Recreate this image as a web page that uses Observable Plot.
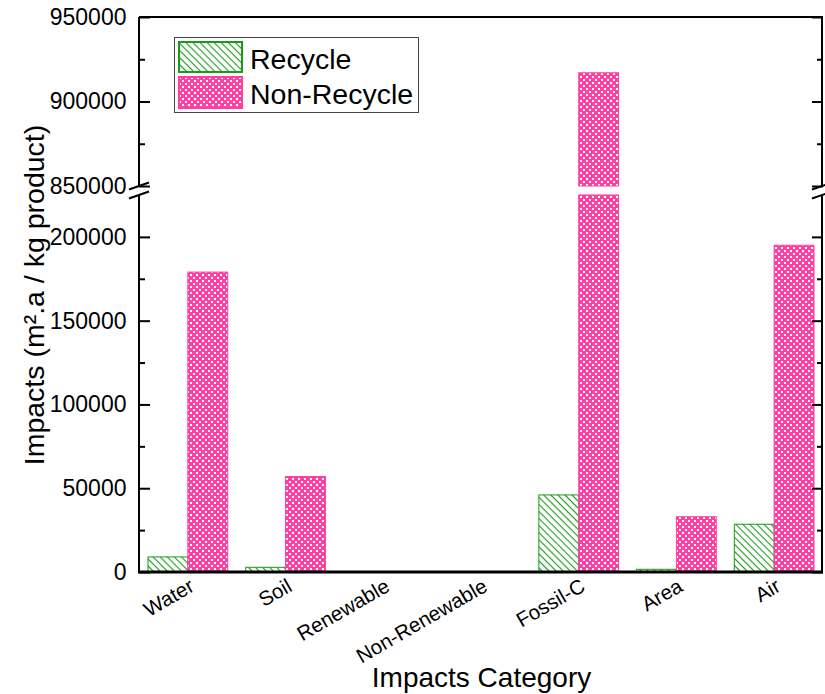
<!DOCTYPE html>
<html><head><meta charset="utf-8">
<script src="https://cdn.jsdelivr.net/npm/d3@7"></script>
<script src="https://cdn.jsdelivr.net/npm/@observablehq/plot@0.6"></script>
<style>
body{margin:0;background:#fff;font-family:"Liberation Sans",Arial,sans-serif;}
#wrap{position:relative;width:825px;height:694px;}
#legend{position:absolute;left:174px;top:37px;width:243px;height:74px;border:1px solid #444;background:#fff;box-sizing:content-box;}
.lrow{position:absolute;left:3px;display:flex;align-items:center;}
.lrow span{margin-left:7px;font-size:28.5px;color:#000;line-height:1;position:relative;top:2px;}
</style></head><body>
<svg width="0" height="0" style="position:absolute">
<defs>
<pattern id="hatch" patternUnits="userSpaceOnUse" width="5" height="5" patternTransform="rotate(45)">
<rect width="5" height="5" fill="#fff"/>
<rect x="0" y="0" width="5" height="1.1" fill="#1a9a1a"/>
</pattern>
<pattern id="mesh" patternUnits="userSpaceOnUse" width="6" height="6">
<rect width="6" height="6" fill="#ff3fa4"/>
<rect x="1" y="1" width="2" height="2" fill="#fff"/>
<rect x="4" y="4" width="2" height="2" fill="#fff"/>
</pattern>
</defs></svg>
<div id="wrap"><div id="legend"></div></div>
<script>
// ---- data ----
const categories = ["Water", "Soil", "Renewable", "Non-Renewable", "Fossil-C", "Area", "Air"];
const recycle    = [9000, 2800, 0, 0, 46000, 1600, 28500];
const nonRecycle = [179000, 57000, 0, 0, 917000, 33000, 195000];
const seriesNames = ["Recycle", "Non-Recycle"];
const majorTicks = [0, 50000, 100000, 150000, 200000, 850000, 900000, 950000];
const minorTicks = [25000, 75000, 125000, 175000, 875000, 925000];
const breakLow = 225000, breakHigh = 850000, yMax = 950000;
const xTitle = "Impacts Category";
const yTitle = "Impacts (m².a / kg product)";

// ---- layout ----
const W = 825, H = 694, mL = 139, mR = 2, mT = 17, mB = 122;
const gapTop = 186, gapBottom = 195;
const plotW = W - mL - mR;
const bw = plotW / categories.length;
const barW = 39.86, outerPad = 9;
const green = "#1a9a1a", pink = "#ff3fa4";

function segments(values) {
  const rows = [];
  categories.forEach((c, i) => {
    const v = values[i];
    rows.push({cat: c, y1: 0, y2: Math.min(v, breakLow)});
    if (v > breakHigh) rows.push({cat: c, y1: breakHigh, y2: v});
  });
  return rows;
}

const chart = Plot.plot({
  width: W, height: H,
  marginLeft: mL, marginRight: mR, marginTop: mT, marginBottom: mB,
  style: {fontFamily: "'Liberation Sans', Arial, sans-serif", background: "transparent", overflow: "visible", color: "#000"},
  x: {domain: categories, padding: 0, round: false, label: null},
  y: {type: "linear", domain: [0, breakLow, breakHigh, yMax], range: [H - mB, gapBottom, gapTop, mT], label: null},
  marks: [
    Plot.barY(segments(recycle), {x: "cat", y1: "y1", y2: "y2", fill: "url(#hatch)", stroke: green, strokeWidth: 1,
      insetLeft: outerPad, insetRight: bw - outerPad - barW}),
    Plot.barY(segments(nonRecycle), {x: "cat", y1: "y1", y2: "y2", fill: "url(#mesh)", stroke: pink, strokeWidth: 1,
      insetLeft: bw - outerPad - barW, insetRight: outerPad}),
    Plot.ruleY(majorTicks, {y: d => d, insetRight: plotW - 11, stroke: "#000", strokeWidth: 2}),
    Plot.ruleY(majorTicks, {y: d => d, insetLeft: plotW - 11, stroke: "#000", strokeWidth: 2}),
    Plot.ruleY(minorTicks, {y: d => d, insetRight: plotW - 6, stroke: "#000", strokeWidth: 2}),
    Plot.ruleY(minorTicks, {y: d => d, insetLeft: plotW - 6, stroke: "#000", strokeWidth: 2}),
    Plot.axisY({ticks: majorTicks, tickSize: 0, tickPadding: 13, tickFormat: d => String(d), fontSize: 23, label: null}),
    Plot.axisX({tickSize: 0, tickPadding: 12, tickRotate: -30, textAnchor: "end", lineAnchor: "middle", dx: 4, fontSize: 20.5, label: null}),
    Plot.text([xTitle], {text: d => d, frameAnchor: "bottom", dy: 106, fontSize: 28, lineAnchor: "middle", textAnchor: "middle"}),
    Plot.text([yTitle], {text: d => d, frameAnchor: "left", dx: -105, rotate: -90, fontSize: 28.5, lineAnchor: "middle", textAnchor: "middle"})
  ]
});

document.getElementById("wrap").prepend(chart);

// ---- frame with axis break (positions from the y scale) ----
const ys = chart.scale("y");
const yTopPx = ys.apply(yMax), yBotPx = ys.apply(0);
const yHi = ys.apply(breakHigh), yLo = ys.apply(breakLow);
const xL = mL, xR = W - mR;
const svg = d3.select(chart);
const g = svg.append("g").attr("stroke", "#000").attr("fill", "none");
g.append("line").attr("x1", xL).attr("x2", xR).attr("y1", yTopPx).attr("y2", yTopPx).attr("stroke-width", 2);
g.append("line").attr("x1", xL - 1).attr("x2", xR).attr("y1", yBotPx).attr("y2", yBotPx).attr("stroke-width", 3);
for (const x of [xL, xR - 1]) {
  g.append("line").attr("x1", x).attr("x2", x).attr("y1", yTopPx).attr("y2", yHi).attr("stroke-width", 2);
  g.append("line").attr("x1", x).attr("x2", x).attr("y1", yLo).attr("y2", yBotPx).attr("stroke-width", 2);
  for (const yb of [yHi, yLo]) {
    g.append("line").attr("x1", x - 10).attr("x2", x + 10).attr("y1", yb + 3.5).attr("y2", yb - 3.5).attr("stroke-width", 2);
  }
}

// ---- legend ----
const legend = document.getElementById("legend");
const fills = ["url(#hatch)", "url(#mesh)"], strokes = [green, pink];
seriesNames.forEach((name, i) => {
  const row = document.createElement("div");
  row.className = "lrow";
  row.style.top = (i === 0 ? 3 : 38) + "px";
  row.innerHTML = `<svg width="65" height="${i === 0 ? 32 : 33}"><rect x="1" y="1" width="63" height="${i === 0 ? 30 : 31}" fill="${fills[i]}" stroke="${strokes[i]}" stroke-width="2"/></svg><span>${name}</span>`;
  legend.appendChild(row);
});
</script>
</body></html>
